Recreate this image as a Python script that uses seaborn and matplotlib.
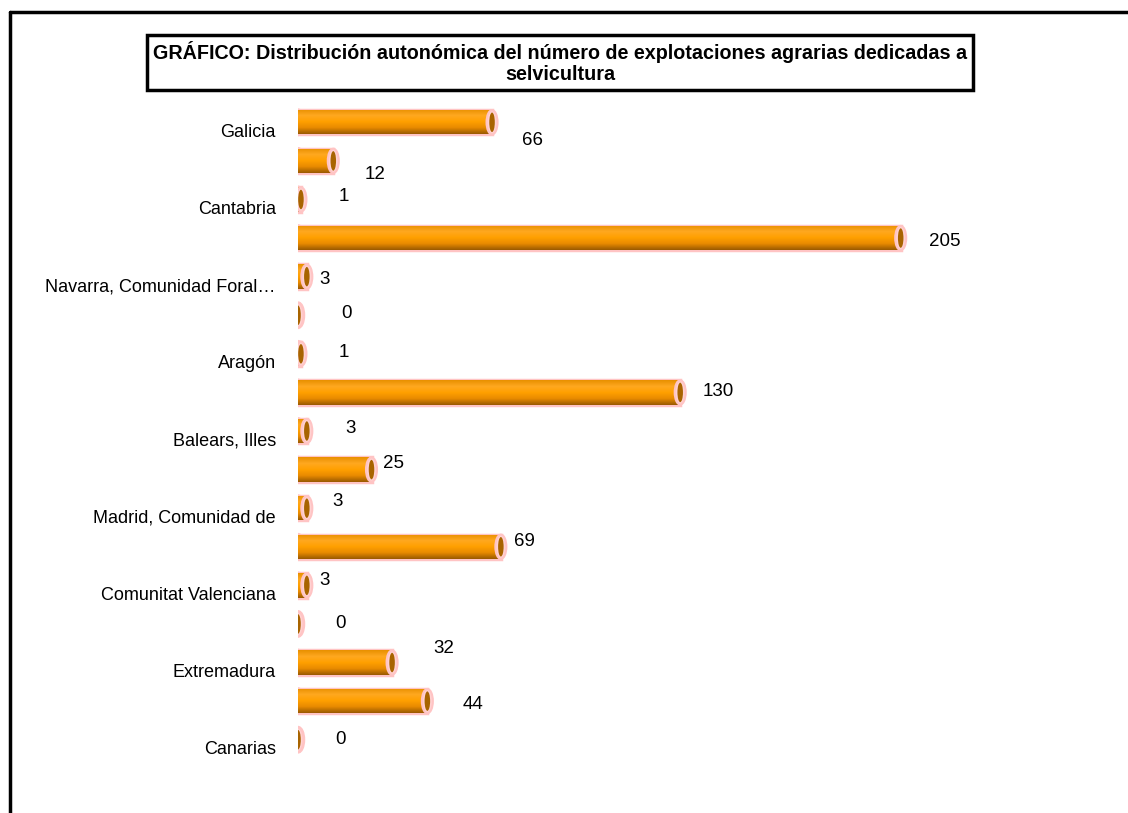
import numpy as np
import pandas as pd
import seaborn as sns
import matplotlib.pyplot as plt
import matplotlib.transforms as mtransforms
from matplotlib.colors import LinearSegmentedColormap
from matplotlib.patches import Ellipse, Rectangle
from matplotlib.lines import Line2D

sns.set_style("white")
plt.rcParams["font.family"] = ["Liberation Sans", "DejaVu Sans"]

# ---------------------------------------------------------
# Data
# ---------------------------------------------------------
regions = [
    "Galicia", "Asturias, Principado de", "Cantabria", "País Vasco",
    "Navarra, Comunidad Foral…", "Rioja, La", "Aragón", "Cataluña",
    "Balears, Illes", "Castilla y León", "Madrid, Comunidad de",
    "Castilla - La Mancha", "Comunitat Valenciana", "Murcia, Región de",
    "Extremadura", "Andalucía", "Canarias",
]
values = [66, 12, 1, 205, 3, 0, 1, 130, 3, 25, 3, 69, 3, 0, 32, 44, 0]

# label offsets (pixels right / down from bar end), as Excel placed them
label_dx = [40, 42, 43, 44, 18, 48, 43, 38, 44, 22, 31, 24, 18, 43, 52, 46, 43]
label_dy = [18, 14, -3, 3, 3, -2, -1, -1, -3, -6, -7, -5, -5, 0, -14, 3, 0]

df = pd.DataFrame({"region": regions, "value": values})

# ---------------------------------------------------------
# Figure
# ---------------------------------------------------------
W, H = 1128, 813
fig = plt.figure(figsize=(W / 100, H / 100), dpi=100)
ax = fig.add_axes([298 / W, 1 - 759 / H, 702 / W, 656 / H])

sns.barplot(data=df, x="value", y="region", orient="h", color="#FF9C00",
            width=0.63, edgecolor="#FFC4C4", linewidth=2.5, ax=ax)

ax.set_xlim(0, 702 / 2.94)
ax.set_ylim(len(regions) - 0.5, -0.5)

# cylinder look: vertical gradient + end caps
cmap = LinearSegmentedColormap.from_list(
    "cyl", ["#E89000", "#FFA820", "#FFA000", "#E88A00", "#9A5A00"])
grad = np.linspace(0, 1, 64).reshape(-1, 1)
cap_w = 11 / 2.94
for bar in list(ax.patches):
    x0, y0 = bar.get_x(), bar.get_y()
    w, h = bar.get_width(), bar.get_height()
    yc = y0 + h / 2
    left = Ellipse((x0, yc), cap_w, h, facecolor="#F09400",
                   edgecolor="#FFC4C4", lw=2.5, zorder=1.5)
    ax.add_patch(left)
    if w > 0:
        im = ax.imshow(grad, extent=[x0, x0 + w, y0 + h, y0], aspect="auto",
                       cmap=cmap, zorder=2.1)
        im.set_clip_path(bar)
    cap = Ellipse((x0 + w, yc), cap_w, h, facecolor="#FFD2D2",
                  edgecolor="#FFC4C4", lw=1.5, zorder=3)
    ax.add_patch(cap)
    inner = Ellipse((x0 + w, yc), cap_w * 0.5, h * 0.8, facecolor="#A86400",
                    edgecolor="none", zorder=3.1)
    ax.add_patch(inner)

ax.set_xlim(0, 702 / 2.94)
ax.set_ylim(len(regions) - 0.5, -0.5)

# value labels
for i, v in enumerate(values):
    ax.annotate(str(v), xy=(v, i), xytext=(label_dx[i] * 0.72, -label_dy[i] * 0.72),
                textcoords="offset points", ha="center", va="center",
                fontsize=13.5, color="black")

# axis cosmetics
ax.set_yticks(range(len(regions)))
ax.set_yticklabels([r if i % 2 == 0 else "" for i, r in enumerate(regions)],
                   fontsize=13, color="black")
ax.tick_params(axis="y", length=0, pad=16)
shift = mtransforms.ScaledTranslation(0, -0.08, fig.dpi_scale_trans)
for lbl in ax.get_yticklabels():
    lbl.set_transform(lbl.get_transform() + shift)
ax.set_xticks([])
ax.set_xlabel("")
ax.set_ylabel("")
for s in ax.spines.values():
    s.set_visible(False)

# title box
fig.patches.append(Rectangle((147 / W, 1 - 90 / H), (973 - 147) / W, 55 / H,
                             transform=fig.transFigure, facecolor="white",
                             edgecolor="black", lw=2.5))
fig.text(560 / W, 1 - 62.5 / H,
         "GRÁFICO: Distribución autonómica del número de explotaciones agrarias dedicadas a\nselvicultura",
         ha="center", va="center", fontsize=14.2, fontweight="bold",
         color="black", linespacing=1.1)

# outer frame (only top and left visible)
fig.lines.append(Line2D([10 / W, 1], [1 - 12 / H, 1 - 12 / H],
                        transform=fig.transFigure, color="black", lw=2.5))
fig.lines.append(Line2D([10 / W, 10 / W], [0, 1 - 12 / H],
                        transform=fig.transFigure, color="black", lw=2.5))

fig.savefig("out.png", dpi=100)
plt.close(fig)
